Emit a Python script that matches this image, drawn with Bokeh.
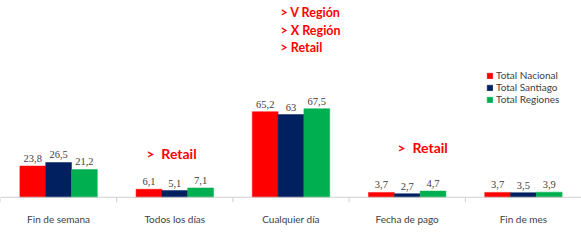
from bokeh.plotting import figure
from bokeh.models import ColumnDataSource, FactorRange, Range1d, Legend, LegendItem, Label, Span
from bokeh.transform import dodge
from bokeh.embed import file_html
from bokeh.resources import INLINE

categories = ["Fin de semana", "Todos los días", "Cualquier día", "Fecha de pago", "Fin de mes"]
nacional = [23.8, 6.1, 65.2, 3.7, 3.7]
santiago = [26.5, 5.1, 63.0, 2.7, 3.5]
regiones = [21.2, 7.1, 67.5, 4.7, 3.9]
series_names = ["Total Nacional", "Total Santiago", "Total Regiones"]
colors = ["#FF0000", "#002060", "#00B050"]

def fmt(v):
    s = ("%.1f" % v).replace(".", ",")
    return s[:-2] if s.endswith(",0") else s

src = ColumnDataSource(dict(
    cat=categories,
    nac=nacional, san=santiago, reg=regiones,
    nac_l=[fmt(v) for v in nacional],
    san_l=[fmt(v) for v in santiago],
    reg_l=[fmt(v) for v in regiones],
))

p = figure(width=581, height=243, x_range=FactorRange(*categories, range_padding=0),
           y_range=Range1d(-4, 150), output_backend="svg", toolbar_location=None,
           min_border_left=0, min_border_right=0, min_border_top=0, min_border_bottom=41)
p.outline_line_color = None
p.grid.visible = False
p.yaxis.visible = False
p.background_fill_color = "white"
p.border_fill_color = "white"

w = 0.222
offs = [-w, 0, w]
keys = ["nac", "san", "reg"]
items = []
for k, off, c, name in zip(keys, offs, colors, series_names):
    r = p.vbar(x=dodge("cat", off, range=p.x_range), top=k, bottom=0, width=w, source=src,
               fill_color=c, line_color=c, line_width=0.5)
    items.append(LegendItem(label=name, renderers=[r]))
    p.text(x=dodge("cat", off, range=p.x_range), y=k, text=k + "_l", source=src,
           text_align="center", text_baseline="bottom", y_offset=-4,
           text_font_size="10.5px", text_color="#404040", text_font="Lato")

# baseline and boundary ticks
p.add_layout(Span(location=0, dimension="width", line_color="#D0D0D0", line_width=1))
bounds = list(range(0, len(categories) + 1))
p.segment(x0=bounds, x1=bounds, y0=[0] * len(bounds), y1=[-4] * len(bounds),
          line_color="#D0D0D0", line_width=1)

ax = p.xaxis[0]
ax.axis_line_color = None
ax.major_tick_line_color = None
ax.major_label_standoff = 4
ax.major_label_text_font_size = "10px"
ax.major_label_text_color = "#404040"
ax.major_label_text_font = "Lato"

leg = Legend(items=items, location=(486, 97), orientation="vertical",
             glyph_width=7, glyph_height=7, label_text_font_size="10px",
             label_text_font="Lato", label_text_color="#404040",
             label_height=12, label_standoff=3, spacing=0, padding=0, margin=0,
             border_line_color=None, background_fill_alpha=0)
p.add_layout(leg)

# annotations
NB = "\u00a0"
ann = [(">" + NB + "V Región", 2.41, 140.9, "12.5px"),
       (">" + NB + "X Región", 2.41, 127.1, "12.5px"),
       (">" + NB + "Retail", 2.41, 114.2, "12.5px"),
       (">" + NB * 2 + "Retail", 1.256, 33.4, "14px"),
       (">" + NB * 2 + "Retail", 3.417, 38.2, "14px")]
for t, x, y, fs in ann:
    p.add_layout(Label(x=x, y=y, text=t, text_color="#FF0000", text_font_style="bold",
                       text_font_size=fs, text_font="Lato", text_baseline="middle"))

open("out.html", "w").write(file_html(p, INLINE))
